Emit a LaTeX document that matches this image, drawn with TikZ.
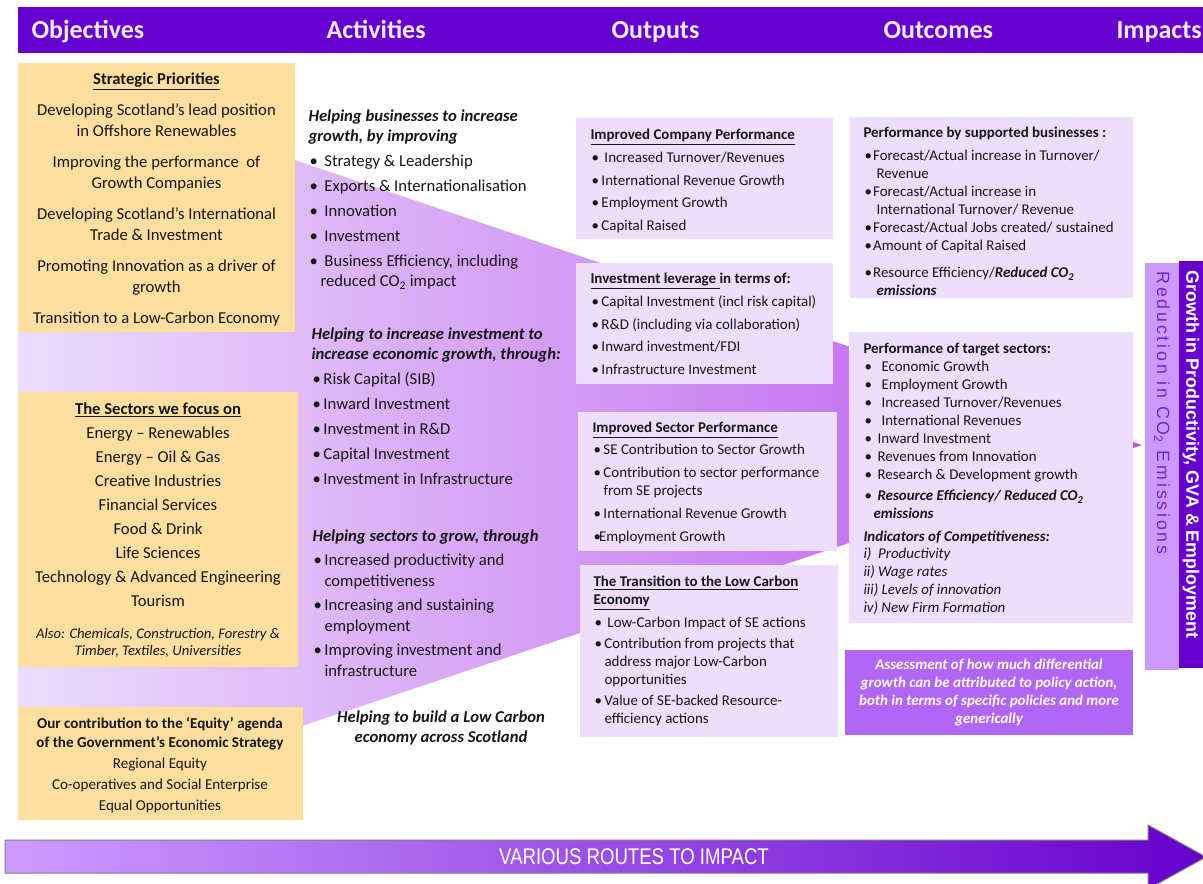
\documentclass[tikz,border=0pt]{standalone}
\usepackage{fontspec}
\setmainfont{Carlito}
\newfontfamily\arialfont{Liberation Sans}
\newfontfamily\arialspaced{Liberation Sans}[LetterSpace=16]

\definecolor{hdpurple}{RGB}{102,0,204}
\definecolor{hdtext}{RGB}{242,234,255}
\definecolor{peach}{RGB}{254,223,160}
\definecolor{lilac}{RGB}{237,222,252}
\definecolor{assess}{RGB}{178,102,245}
\definecolor{co2bar}{RGB}{204,153,255}
\definecolor{co2text}{RGB}{118,36,204}
\definecolor{funnelL}{RGB}{235,221,252}
\definecolor{funnelR}{RGB}{186,86,236}
\definecolor{routeL}{RGB}{206,156,255}
\definecolor{routeM}{RGB}{176,118,242}
\definecolor{ink}{RGB}{22,22,22}

% bullet with a fixed gap before the item text
\newcommand{\bulpt}[1]{\hspace*{0.75pt}\makebox[#1][l]{\textbullet}}

\tikzset{every picture/.style={line width=0.75pt}}
\tikzset{
  hdlbl/.style={anchor=base west, inner sep=0.75pt, text=hdtext, font=\fontsize{19.5}{23}\selectfont\bfseries},
  objtxt/.style={anchor=north, inner sep=0pt, align=center, text=ink},
  listtxt/.style={anchor=north west, inner sep=0pt, align=left, text=ink},
  fbig/.style={font=\fontsize{12.5}{15.75}\selectfont},
  fsmall/.style={font=\fontsize{11.2}{13.5}\selectfont},
}

\begin{document}
\begin{tikzpicture}[x=0.75pt,y=0.75pt,yscale=-1,xscale=1]
\useasboundingbox (0,0) rectangle (1203,883);

%Shape: Funnel behind the columns
\shade [left color=funnelL, right color=funnelR] (18,67) -- (1142,445) -- (18,821) -- cycle ;

%Shape: Rectangle (header bar)
\fill [hdpurple] (18,7) rectangle (1203,53) ;
% Text Node
\draw (30,38) node [hdlbl] (hobj) {Objectives};
% Text Node
\draw (325,38) node [hdlbl] (hact) {Activities};
% Text Node
\draw (610,38) node [hdlbl] (hout) {Outputs};
% Text Node
\draw (882,38) node [hdlbl] (hocm) {Outcomes};
% Text Node
\draw (1115,38) node [hdlbl] (himp) {Impacts};

%Shape: Rectangle
\fill [peach] (18,63) rectangle (295,332) ;
%Shape: Rectangle
\fill [peach] (18,392) rectangle (298,667) ;
%Shape: Rectangle
\fill [peach] (18,707) rectangle (303,820) ;

% Text Node
\draw (156.5,72) node [objtxt, fbig] (prio) {\underline{\textbf{Strategic Priorities}}\\[7.5pt]
Developing Scotland’s lead position\\ in Offshore Renewables\\[7.5pt]
Improving the performance\ \ of\\ Growth Companies\\[7.5pt]
Developing Scotland’s International\\ Trade \& Investment\\[7.5pt]
Promoting Innovation as a driver of\\ growth\\[7.5pt]
Transition to a Low-Carbon Economy};
% Text Node
\draw (158,402) node [objtxt, font=\fontsize{12.5}{18}\selectfont] (sect) {\underline{\textbf{The Sectors we focus on}}\\
Energy – Renewables\\ Energy – Oil \& Gas\\ Creative Industries\\ Financial Services\\
Food \& Drink\\ Life Sciences\\ Technology \& Advanced Engineering\\ Tourism};
% Text Node
\draw (158,628) node [objtxt, font=\fontsize{11}{12.75}\selectfont\itshape] (also) {Also: Chemicals, Construction, Forestry \&\\ Timber, Textiles, Universities};
% Text Node
\draw (160,716.8) node [objtxt, font=\fontsize{11.3}{15.75}\selectfont] (eqty) {\textbf{Our contribution to the ‘Equity’ agenda}\\[-1.5pt]
\textbf{of the Government’s Economic Strategy}\\
Regional Equity\\ Co-operatives and Social Enterprise\\ Equal Opportunities};

% Text Node
\draw (308,109.5) node [listtxt, font=\fontsize{12.5}{15}\selectfont] (act1) {\textbf{\textit{Helping businesses to increase}}\\
\textbf{\textit{growth, by improving}}\\[3.75pt]
\bulpt{11.25pt}Strategy \& Leadership\\[3.75pt]
\bulpt{11.25pt}Exports \& Internationalisation\\[3.75pt]
\bulpt{11.25pt}Innovation\\[3.75pt]
\bulpt{11.25pt}Investment\\[3.75pt]
\bulpt{11.25pt}Business Efficiency, including\\
\hspace*{9pt}reduced CO\textsubscript{2} impact};
% Text Node
\draw (311,327.5) node [listtxt, font=\fontsize{12.5}{15}\selectfont] (act2) {\textbf{\textit{Helping to increase investment to}}\\
\textbf{\textit{increase economic growth, through:}}\\[3.75pt]
\bulpt{8.25pt}Risk Capital (SIB)\\[3.75pt]
\bulpt{8.25pt}Inward Investment\\[3.75pt]
\bulpt{8.25pt}Investment in R\&D\\[3.75pt]
\bulpt{8.25pt}Capital Investment\\[3.75pt]
\bulpt{8.25pt}Investment in Infrastructure};
% Text Node
\draw (312,529.5) node [listtxt, font=\fontsize{12.5}{15.75}\selectfont] (act3) {\textbf{\textit{Helping sectors to grow, through}}\\[2.25pt]
\bulpt{8.25pt}Increased productivity and\\
\hspace*{9pt}competitiveness\\[2.25pt]
\bulpt{8.25pt}Increasing and sustaining\\
\hspace*{9pt}employment\\[2.25pt]
\bulpt{8.25pt}Improving investment and\\
\hspace*{9pt}infrastructure};
% Text Node
\draw (441,710.5) node [objtxt, font=\fontsize{12.5}{15}\selectfont\bfseries\itshape] (act4) {Helping to build a Low Carbon\\ economy across Scotland};

%Shape: Rectangle
\fill [lilac] (576,118) rectangle (833,239) ;
%Shape: Rectangle
\fill [lilac] (576,263) rectangle (833,384) ;
%Shape: Rectangle
\fill [lilac] (578,412) rectangle (837,551) ;
%Shape: Rectangle
\fill [lilac] (580,565) rectangle (838,737) ;

% Text Node
\draw (590,128.8) node [listtxt, fsmall] (outa) {\underline{\textbf{Improved Company Performance}}\\[3.5pt]
\bulpt{7.5pt}\hspace{2.25pt}Increased Turnover/Revenues\\[3.5pt]
\bulpt{7.5pt}International Revenue Growth\\[3.5pt]
\bulpt{7.5pt}Employment Growth\\[3.5pt]
\bulpt{7.5pt}Capital Raised};
% Text Node
\draw (590,272.8) node [listtxt, fsmall] (outb) {\textbf{\underline{Investment leverage\ }in terms of:}\\[3.5pt]
\bulpt{7.5pt}Capital Investment (incl risk capital)\\[3.5pt]
\bulpt{7.5pt}R\&D (including via collaboration)\\[3.5pt]
\bulpt{7.5pt}Inward investment/FDI\\[3.5pt]
\bulpt{7.5pt}Infrastructure Investment};
% Text Node
\draw (592,421.8) node [listtxt, fsmall] (outc) {\underline{\textbf{Improved Sector Performance}}\\[3pt]
\bulpt{7.5pt}SE Contribution to Sector Growth\\[3.5pt]
\bulpt{7.5pt}Contribution to sector performance\\
\hspace*{8.25pt}from SE projects\\[3.75pt]
\bulpt{7.5pt}International Revenue Growth\\[3.5pt]
\bulpt{4.25pt}Employment Growth};
% Text Node
\draw (593,575.8) node [listtxt, fsmall] (outd) {\underline{\textbf{The Transition to the Low Carbon}}\\
\underline{\textbf{Economy}}\\[3.75pt]
\bulpt{7.5pt}\hspace{2.25pt}Low-Carbon Impact of SE actions\\[2.25pt]
\bulpt{7.5pt}Contribution from projects that\\
\hspace*{8.25pt}address major Low-Carbon\\
\hspace*{8.25pt}opportunities\\[2.25pt]
\bulpt{7.5pt}Value of SE-backed Resource-\\
\hspace*{8.25pt}efficiency actions};

%Shape: Rectangle
\fill [lilac] (850,117) rectangle (1133,298) ;
%Shape: Rectangle
\fill [lilac] (849,332) rectangle (1133,623) ;
%Shape: Rectangle
\fill [assess] (845,650) rectangle (1133,735) ;

% Text Node
\draw (863,127) node [listtxt, fsmall] (ocme) {\textbf{Performance by supported businesses :}\\[3.75pt]
\bulpt{6.5pt}Forecast/Actual increase in Turnover/\\
\hspace*{9.75pt}Revenue\\
\bulpt{6.5pt}Forecast/Actual increase in\\
\hspace*{9.75pt}International Turnover/ Revenue\\
\bulpt{6.5pt}Forecast/Actual Jobs created/ sustained\\
\bulpt{6.5pt}Amount of Capital Raised\\[6.75pt]
\bulpt{6.5pt}Resource Efficiency/\textbf{\textit{Reduced CO\textsubscript{2}}}\\
\hspace*{9.75pt}\textbf{\textit{emissions}}};
% Text Node
\draw (863,343) node [listtxt, fsmall] (ocmf) {\textbf{Performance of target sectors:}\\
\bulpt{12.75pt}Economic Growth\\
\bulpt{12.75pt}Employment Growth\\
\bulpt{12.75pt}Increased Turnover/Revenues\\
\bulpt{12.75pt}International Revenues\\
\bulpt{9.75pt}Inward Investment\\
\bulpt{9.75pt}Revenues from Innovation\\
\bulpt{9.75pt}Research \& Development growth\\[2.25pt]
\bulpt{9.75pt}\textbf{\textit{Resource Efficiency/ Reduced CO\textsubscript{2}}}\\
\hspace*{7.5pt}\textbf{\textit{emissions}}\\[3.75pt]
\textbf{\textit{Indicators of Competitiveness:}}\\[-0.75pt]
\textit{i)\ \ Productivity}\\
\textit{ii) Wage rates}\\
\textit{iii) Levels of innovation}\\
\textit{iv) New Firm Formation}};
% Text Node
\draw (989,658.8) node [objtxt, fsmall, text=white, font=\fontsize{11.2}{13.5}\selectfont\bfseries\itshape] (asmt) {Assessment of how much differential\\
growth can be attributed to policy action,\\
both in terms of specific policies and more\\ generically};

%Shape: Rectangle (CO2 bar)
\fill [co2bar] (1145,263) rectangle (1179,670) ;
%Shape: Rectangle (growth bar)
\fill [hdpurple] (1179,261) rectangle (1203,668) ;
% Text Node
\draw (1162,271) node [anchor=west, rotate=-90, inner sep=0pt, text=co2text, font=\arialspaced\fontsize{13.3}{15}\selectfont] (redco) {Reduction in CO\textsubscript{2} Emissions};
% Text Node
\draw (1191,270) node [anchor=west, rotate=-90, inner sep=0pt, text=white, font=\arialfont\fontsize{13.4}{15}\selectfont\bfseries] (grow) {Growth in Productivity, GVA \& Employment};

%Shape: Right Arrow
\shadedraw [left color=routeL, middle color=routeM, right color=hdpurple, draw=gray] (5,840) -- (1148,840) -- (1148,825) -- (1206,857) -- (1148,889) -- (1148,873) -- (5,873) -- cycle ;
% Text Node
\draw (634,857) node [inner sep=0pt, xscale=0.82, text=white, font=\arialfont\fontsize{17}{20}\selectfont] (route) {VARIOUS ROUTES TO IMPACT};

\end{tikzpicture}
\end{document}
